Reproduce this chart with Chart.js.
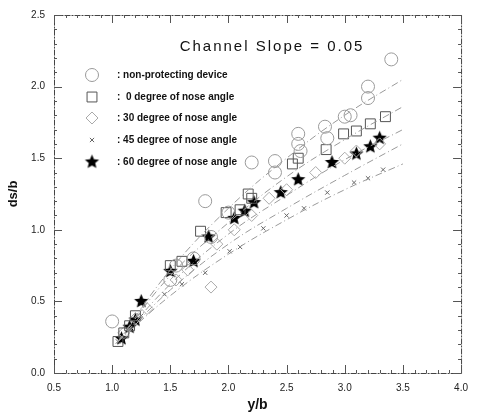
<!DOCTYPE html>
<html>
<head>
<meta charset="utf-8">
<script src="https://cdn.jsdelivr.net/npm/chart.js@4/dist/chart.umd.min.js"></script>
<style>
  html, body { margin: 0; padding: 0; background: #fff; }
  #wrap { width: 477px; height: 414px; }
</style>
</head>
<body>
<div id="wrap"><canvas id="myChart" width="477" height="414"></canvas></div>
<script>
// values
var titulo = 'Channel Slope = 0.05';
var nombres = [': non-protecting device', ':  0 degree of nose angle', ': 30 degree of nose angle', ': 45 degree of nose angle', ': 60 degree of nose angle'];
var xTicks = [0.5, 1.0, 1.5, 2.0, 2.5, 3.0, 3.5, 4.0];
var yTicks = [0.0, 0.5, 1.0, 1.5, 2.0, 2.5];

var circX = [1.0, 1.5, 1.55, 1.7, 1.8, 1.85, 2.0, 2.2, 2.4, 2.4, 2.6, 2.6, 2.62, 2.83, 2.85, 3.0, 3.05, 3.2, 3.2, 3.4];
var circY = [0.36, 0.65, 0.75, 0.80, 1.20, 0.95, 1.12, 1.47, 1.48, 1.40, 1.67, 1.60, 1.55, 1.72, 1.64, 1.79, 1.80, 2.00, 1.92, 2.19];

var cuadX = [1.05, 1.1, 1.15, 1.2, 1.5, 1.6, 1.76, 1.98, 2.1, 2.17, 2.2, 2.55, 2.6, 2.84, 2.99, 3.1, 3.22, 3.35];
var cuadY = [0.22, 0.28, 0.33, 0.40, 0.75, 0.78, 0.99, 1.12, 1.14, 1.25, 1.22, 1.46, 1.50, 1.56, 1.67, 1.69, 1.74, 1.79];

var diamX = [1.1, 1.2, 1.3, 1.55, 1.65, 1.85, 1.9, 2.05, 2.2, 2.35, 2.5, 2.75, 3.0, 3.1, 3.3];
var diamY = [0.28, 0.38, 0.45, 0.65, 0.72, 0.60, 0.90, 1.00, 1.10, 1.22, 1.28, 1.40, 1.50, 1.55, 1.60];

var cruzX = [1.05, 1.15, 1.25, 1.45, 1.6, 1.8, 2.01, 2.1, 2.3, 2.5, 2.65, 2.85, 3.08, 3.2, 3.33];
var cruzY = [0.22, 0.30, 0.40, 0.55, 0.62, 0.70, 0.85, 0.88, 1.01, 1.10, 1.15, 1.26, 1.33, 1.36, 1.42];

var estX = [1.08, 1.15, 1.2, 1.25, 1.5, 1.7, 1.83, 2.05, 2.14, 2.22, 2.45, 2.6, 2.89, 3.1, 3.22, 3.3];
var estY = [0.24, 0.32, 0.37, 0.50, 0.71, 0.78, 0.95, 1.08, 1.13, 1.19, 1.26, 1.35, 1.47, 1.53, 1.58, 1.64];

// fitted curves, points
var fitX = [1.05, 1.5, 2.0, 2.5, 3.0, 3.5];
var fitCirc = [0.22, 0.72, 1.15, 1.50, 1.80, 2.05];
var fitCuad = [0.22, 0.68, 1.05, 1.37, 1.63, 1.86];
var fitEst = [0.22, 0.62, 0.97, 1.24, 1.49, 1.70];
var fitDiam = [0.22, 0.58, 0.90, 1.15, 1.38, 1.60];
var fitCruz = [0.22, 0.54, 0.83, 1.07, 1.28, 1.46];

function pares(xs, ys){
    var out = [];
    for (var i = 0; i < xs.length; i++) {
        out.push({x: xs[i], y: ys[i]});
    }
    return out;
}

function estrella(r){
    var c = document.createElement('canvas');
    var s = Math.ceil(r * 2 + 2);
    c.width = s; c.height = s;
    var g = c.getContext('2d');
    g.fillStyle = '#000';
    g.beginPath();
    for (var i = 0; i < 10; i++) {
        var rr = (i % 2 == 0) ? r : r * 0.45;
        var a = -Math.PI / 2 + i * Math.PI / 5;
        var px = s / 2 + rr * Math.cos(a), py = s / 2 + rr * Math.sin(a);
        if (i == 0) g.moveTo(px, py); else g.lineTo(px, py);
    }
    g.closePath();
    g.fill();
    return c;
}
var starImg = estrella(7.5);

var fuente = 'Arial, "Liberation Sans", sans-serif';

function linea(ys){
    return {
        type: 'line',
        data: pares(fitX, ys),
        borderColor: '#9a9a9a',
        borderWidth: 1,
        borderDash: [7, 3, 1, 3],
        pointRadius: 0,
        tension: 0.4,
        fill: false,
        showLine: true
    };
}

var series = [
    {data: pares(circX, circY), pointStyle: 'circle', pointRadius: 6.5, borderColor: '#9a9a9a', backgroundColor: 'rgba(0,0,0,0)', borderWidth: 1},
    {data: pares(cuadX, cuadY), pointStyle: 'rect', pointRadius: 7, borderColor: '#555', backgroundColor: 'rgba(0,0,0,0)', borderWidth: 1},
    {data: pares(diamX, diamY), pointStyle: 'rectRot', pointRadius: 6, borderColor: '#aaa', backgroundColor: 'rgba(0,0,0,0)', borderWidth: 1},
    {data: pares(cruzX, cruzY), pointStyle: 'crossRot', pointRadius: 3, borderColor: '#666', backgroundColor: '#666', borderWidth: 1},
    {data: pares(estX, estY), pointStyle: starImg, pointRadius: 8, borderColor: '#000', backgroundColor: '#000'}
];

var marco = {
    id: 'marco',
    afterDraw: function(chart){
        var ctx = chart.ctx, a = chart.chartArea;
        var xs = chart.scales.x, ys = chart.scales.y;
        ctx.save();
        ctx.strokeStyle = '#444';
        ctx.lineWidth = 1;
        ctx.setLineDash([6, 1, 2, 1]);
        ctx.strokeRect(a.left + 0.5, a.top + 0.5, a.right - a.left, a.bottom - a.top);
        ctx.setLineDash([]);
        // inner ticks
        ctx.strokeStyle = '#555';
        ctx.beginPath();
        for (var v = 0.5; v <= 4.0001; v += 0.1) {
            var px = Math.round(xs.getPixelForValue(v)) + 0.5;
            var mayor = Math.abs(v * 2 - Math.round(v * 2)) < 0.001;
            var l = mayor ? 8 : 3;
            ctx.moveTo(px, a.bottom); ctx.lineTo(px, a.bottom - l);
            ctx.moveTo(px, a.top); ctx.lineTo(px, a.top + l);
        }
        for (var w = 0; w <= 2.5001; w += 0.1) {
            var py = Math.round(ys.getPixelForValue(w)) + 0.5;
            var may = Math.abs(w * 2 - Math.round(w * 2)) < 0.001;
            var ll = may ? 8 : 3;
            ctx.moveTo(a.left, py); ctx.lineTo(a.left + ll, py);
            ctx.moveTo(a.right, py); ctx.lineTo(a.right - ll, py);
        }
        ctx.stroke();

        // title inside plot
        ctx.fillStyle = '#111';
        ctx.font = '15px ' + fuente;
        ctx.letterSpacing = '2px';
        ctx.textAlign = 'center';
        ctx.textBaseline = 'middle';
        ctx.fillText(titulo, 272, 47);

        // legend
        ctx.letterSpacing = '0px';
        ctx.font = 'bold 10px ' + fuente;
        ctx.textAlign = 'left';
        var filas = [75, 97, 118, 140, 162];
        for (var i = 0; i < series.length; i++) {
            var s = series[i];
            ctx.strokeStyle = s.borderColor;
            ctx.fillStyle = s.backgroundColor;
            ctx.lineWidth = 1;
            Chart.helpers.drawPoint(ctx, {pointStyle: s.pointStyle, radius: s.pointRadius, rotation: 0, borderWidth: 1}, 92, filas[i]);
            ctx.fillStyle = '#111';
            ctx.fillText(nombres[i], 117, filas[i]);
        }
        ctx.restore();
    }
};

window.onload = function(){
    var ctx = document.getElementById('myChart').getContext('2d');
    var datasets = [linea(fitCirc), linea(fitCuad), linea(fitEst), linea(fitDiam), linea(fitCruz)].concat(series);
    new Chart(ctx, {
        type: 'scatter',
        data: { datasets: datasets },
        plugins: [marco],
        options: {
            responsive: false,
            animation: false,
            layout: { padding: { top: 13, right: 7, left: 0, bottom: 0 } },
            plugins: { legend: { display: false }, tooltip: { enabled: false } },
            scales: {
                x: {
                    type: 'linear', min: 0.5, max: 4.0,
                    afterBuildTicks: function(scale){ scale.ticks = xTicks.map(function(v){ return {value: v}; }); },
                    afterFit: function(scale){ scale.height = 41; },
                    grid: { display: false, drawTicks: false },
                    border: { display: false },
                    ticks: { color: '#222', padding: 9, maxRotation: 0, font: { family: fuente, size: 10 }, callback: function(v){ return v.toFixed(1); } },
                    title: { display: true, text: 'y/b', color: '#111', padding: { top: 0, bottom: 0 }, font: { family: fuente, size: 14, weight: 'bold' } }
                },
                y: {
                    type: 'linear', min: 0, max: 2.5,
                    afterBuildTicks: function(scale){ scale.ticks = yTicks.map(function(v){ return {value: v}; }); },
                    afterFit: function(scale){ scale.width = 54; },
                    grid: { display: false, drawTicks: false },
                    border: { display: false },
                    ticks: { color: '#222', padding: 9, font: { family: fuente, size: 10 }, callback: function(v){ return v.toFixed(1); } },
                    title: { display: true, text: 'ds/b', color: '#111', padding: { top: 6, bottom: 0 }, font: { family: fuente, size: 13, weight: 'bold' } }
                }
            }
        }
    });
};
</script>
</body>
</html>
